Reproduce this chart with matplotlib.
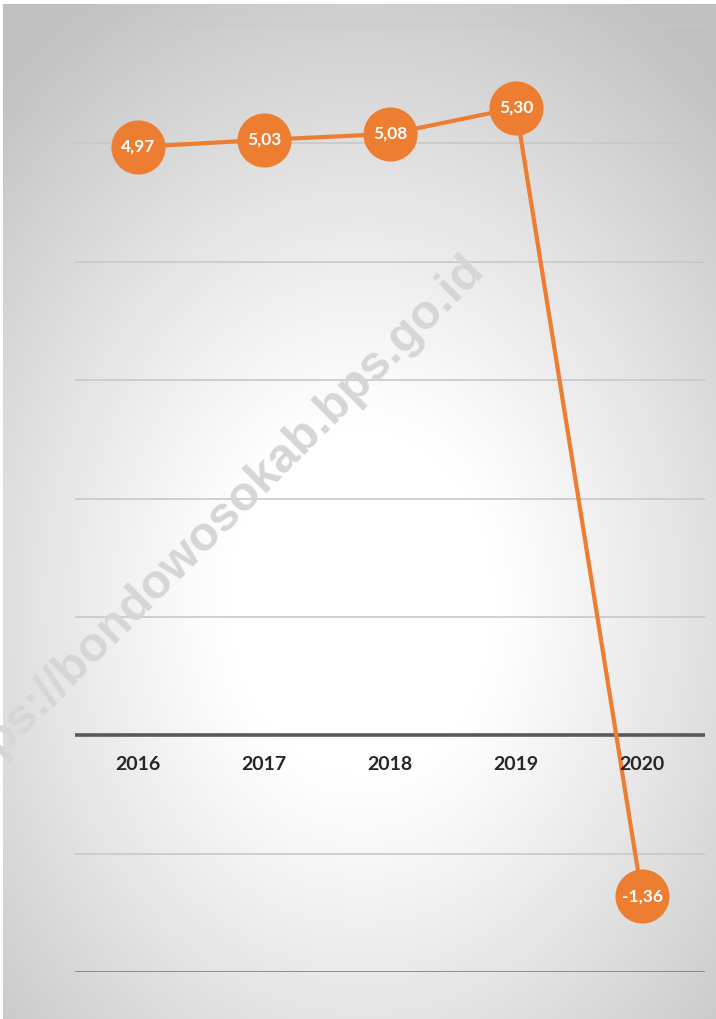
import numpy as np
import matplotlib.pyplot as plt

tahun = ['2016', '2017', '2018', '2019', '2020']
pertumbuhan = [4.97, 5.03, 5.08, 5.30, -1.36]
label_nilai = ['4,97', '5,03', '5,08', '5,30', '-1,36']
grid_y = [-2, -1, 1, 2, 3, 4, 5, 6]

W, H = 716, 1019
fig = plt.figure(figsize=(W / 100, H / 100), dpi=100)
fig.patch.set_facecolor('white')

# latar belakang gradien radial (putih di tengah, abu-abu di tepi)
bg = fig.add_axes([3 / W, 0, 1 - 3 / W, 1 - 4 / H])
yy, xx = np.mgrid[0:H, 0:W]
r = np.sqrt(((xx - 360) / 480.0) ** 2 + ((yy - 600) / 620.0) ** 2)
t = np.clip((r - 0.28) / 0.85, 0, 1) ** 1.1
v = (255 - 62 * t) / 255.0
bg.imshow(np.dstack([v, v, v]), aspect='auto', extent=[0, 1, 0, 1])
bg.set_axis_off()

ax = fig.add_axes([75 / W, (H - 972) / H, 630 / W, 947 / H])
ax.set_facecolor('none')
ax.set_xlim(-0.5, 4.5)
ax.set_ylim(-2, 6)
for g in grid_y:
    warna = '#7f7f7f' if g == -2 else '#c8c8c8'
    ax.axhline(g, color=warna, lw=1.2, zorder=1)
ax.axhline(0, color='#595959', lw=2.6, zorder=2)
for s in ax.spines.values():
    s.set_visible(False)
ax.set_xticks([])
ax.set_yticks([])

x = np.arange(len(tahun))
ax.plot(x, pertumbuhan, color='#ED7D31', lw=3, zorder=3)
ax.scatter(x, pertumbuhan, s=54 ** 2 * 0.52, color='#ED7D31', zorder=4, linewidths=0)
for xi, yi, lab in zip(x, pertumbuhan, label_nilai):
    ax.text(xi, yi, lab, ha='center', va='center', color='white',
            fontsize=12.5, fontweight='bold', family='Lato', zorder=5)
for xi, th in zip(x, tahun):
    ax.text(xi, -0.245, th, ha='center', va='center', color='#262626',
            fontsize=14, fontweight='bold', family='Lato', zorder=5)

fig.text(212 / W, 1 - 527 / H, 'https://bondowosokab.bps.go.id', rotation=45,
         rotation_mode='anchor', ha='center', va='center', fontsize=35,
         fontweight='bold', family='Liberation Sans', color='#d6d6d6', zorder=0)

fig.savefig('out.png', dpi=100)
